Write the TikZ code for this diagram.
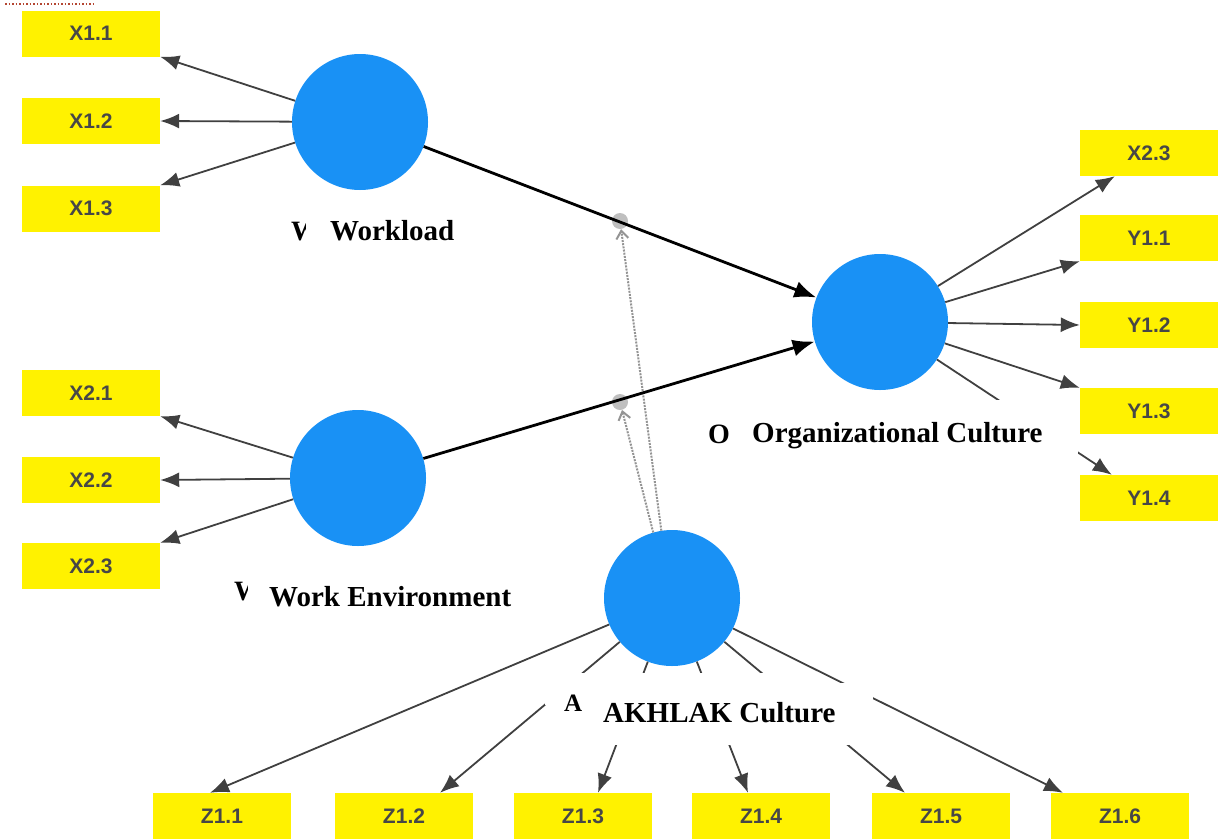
\documentclass[tikz,border=0pt]{standalone}
\usepackage{fontspec}
\setmainfont{Liberation Serif}
\setsansfont{Liberation Sans}
\usetikzlibrary{arrows.meta,calc}
\definecolor{lvblue}{RGB}{25,145,245}
\definecolor{indyellow}{RGB}{255,242,0}
\begin{document}
\begin{tikzpicture}[x=1pt,y=-1pt,
 lv/.style={circle,fill=lvblue,minimum size=136pt,inner sep=0pt},
 ind/.style={rectangle,fill=indyellow,minimum width=138pt,minimum height=46pt,inner sep=0pt,font=\sffamily\bfseries\fontsize{21}{21}\selectfont,text=black!72},
 loadarr/.style={draw=black!75,line width=1.8pt,-{Latex[length=19pt,width=15pt]}},
 structarr/.style={draw=black,line width=2.8pt,-{Latex[length=22pt,width=17pt]}},
 modline/.style={draw=black!42,line width=2pt,dash pattern=on 2pt off 1.2pt,-{Straight Barb[length=8pt,width=12pt]}},
 lbl/.style={font=\bfseries\fontsize{29}{29}\selectfont,inner sep=0pt,anchor=base west},
 oldlbl/.style={font=\bfseries\fontsize{28}{28}\selectfont,inner sep=0pt,anchor=base west},
 dotnode/.style={circle,fill=black!25,minimum size=16pt,inner sep=0pt},
 mask/.style={fill=white}]
\useasboundingbox (0,0) rectangle (1222,838);
% red dotted line top-left
\draw[draw={rgb,255:red,180;green,70;blue,50},line width=1.5pt,dotted] (5,4) -- (93,4);
% latent variables
\node[lv] (wl) at (360,122) {};
\node[lv] (we) at (358,478) {};
\node[lv] (oc) at (880,322) {};
\node[lv] (ak) at (672,598) {};
% indicators
\node[ind] (x11) at (91,33.5) {X1.1};
\node[ind] (x12) at (91,121) {X1.2};
\node[ind] (x13) at (91,208.5) {X1.3};
\node[ind] (x21) at (91,393) {X2.1};
\node[ind] (x22) at (91,480) {X2.2};
\node[ind] (x23) at (91,566) {X2.3};
\node[ind] (x23r) at (1149,153) {X2.3};
\node[ind] (y11) at (1149,238) {Y1.1};
\node[ind] (y12) at (1149,325) {Y1.2};
\node[ind] (y13) at (1149,411) {Y1.3};
\node[ind] (y14) at (1149,498) {Y1.4};
\node[ind] (z11) at (222,816) {Z1.1};
\node[ind] (z12) at (404,816) {Z1.2};
\node[ind] (z13) at (583,816) {Z1.3};
\node[ind] (z14) at (761,816) {Z1.4};
\node[ind] (z15) at (941,816) {Z1.5};
\node[ind] (z16) at (1120,816) {Z1.6};
% moderating effect dots
\node[dotnode] (m1) at (620,221) {};
\node[dotnode] (m2) at (620,402) {};
\draw[modline] (ak.99) -- (m1);
\draw[modline] (ak.106) -- (m2);
% structural paths
\draw[structarr] (wl) -- (oc);
\draw[structarr] (we) -- (oc);
% outer loadings
\draw[loadarr] (wl) -- (x11.south east);
\draw[loadarr] (wl) -- (x12.east);
\draw[loadarr] (wl) -- (x13.north east);
\draw[loadarr] (we) -- (x21.south east);
\draw[loadarr] (we) -- (x22.east);
\draw[loadarr] (we) -- (x23.north east);
\draw[loadarr] (oc) -- ($(x23r.south west)+(35,0)$);
\draw[loadarr] (oc) -- (y11.south west);
\draw[loadarr] (oc) -- (y12.west);
\draw[loadarr] (oc) -- (y13.north west);
\draw[loadarr] (oc) -- ($(y14.north west)+(32,0)$);
\draw[loadarr] (ak) -- ($(z11.north)+(-12,0)$);
\draw[loadarr] (ak) -- ($(z12.north)+(36,0)$);
\draw[loadarr] (ak) -- ($(z13.north)+(15,0)$);
\draw[loadarr] (ak) -- ($(z14.north)+(-13,0)$);
\draw[loadarr] (ak) -- ($(z15.north)+(-36,0)$);
\draw[loadarr] (ak) -- ($(z16.north)+(-57,0)$);
% labels (old fragments partly covered by new labels)
\node[oldlbl] (wlold) at (291,240) {W};
\fill[mask] (306,200) rectangle (470,255);
\node[lbl] (wllbl) at (330,240) {Workload};
\node[oldlbl] (weold) at (234,600) {W};
\fill[mask] (248,560) rectangle (530,625);
\node[lbl] (welbl) at (269,606) {Work Environment};
\node[oldlbl] (ocold) at (708,443) {O};
\fill[mask] (735,400) rectangle (1078,462);
\node[lbl] (oclbl) at (752,442) {Organizational Culture};
\fill[mask] (545,673) rectangle (820,705);
\node[oldlbl,font=\bfseries\fontsize{25}{25}\selectfont] (akold) at (564,711) {A};
\fill[mask] (583,683) rectangle (873,745);
\node[lbl] (aklbl) at (603,722) {AKHLAK Culture};
\end{tikzpicture}
\end{document}
